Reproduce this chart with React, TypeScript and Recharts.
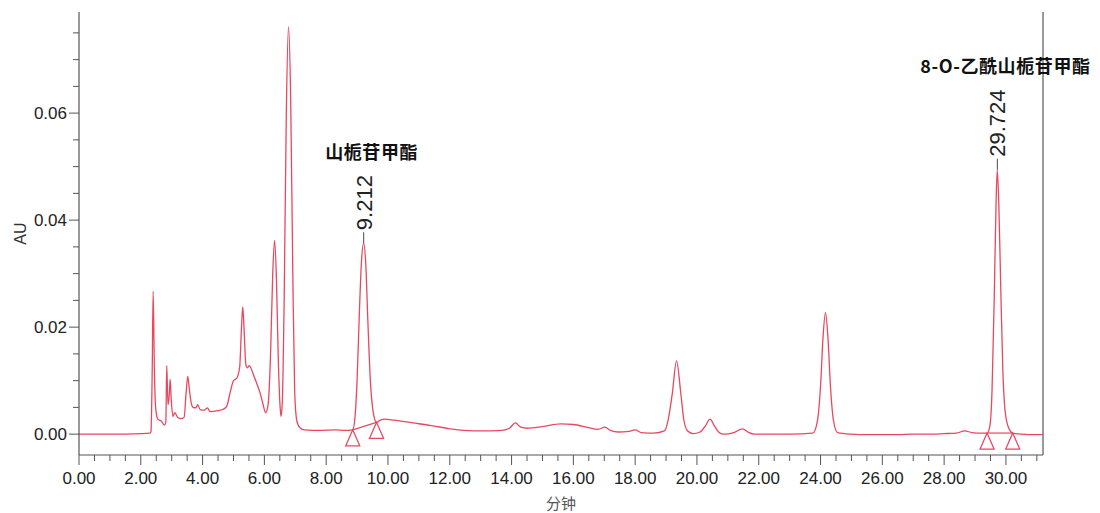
import React from 'react';
import {
  ComposedChart,
  Line,
  XAxis,
  YAxis,
  ReferenceLine,
  ReferenceDot,
} from 'recharts';

// retention time (min)
const times: number[] = [
  0, 1.0, 2.0, 2.3, 2.33, 2.37, 2.4, 2.44, 2.48, 2.55, 2.67, 2.76, 2.81, 2.84, 2.88, 2.92, 2.95, 2.99, 3.04,
  3.1, 3.2, 3.3, 3.4, 3.47, 3.52, 3.57, 3.62, 3.69, 3.78, 3.84, 3.92, 4.05, 4.16, 4.24, 4.5, 4.65, 4.78,
  4.9, 5.0, 5.1, 5.2, 5.26, 5.3, 5.34, 5.4, 5.45, 5.51, 5.56, 5.64, 5.75, 5.86, 5.96, 6.04, 6.12, 6.2,
  6.27, 6.33, 6.39, 6.45, 6.51, 6.54, 6.58, 6.64, 6.71, 6.78, 6.85, 6.92, 6.98, 7.05, 7.15, 7.3, 7.8,
  8.3, 8.6, 8.86, 8.93, 9.0, 9.07, 9.14, 9.21, 9.28, 9.35, 9.43, 9.5, 9.56, 9.63, 9.75, 9.9, 10.2, 10.8,
  11.4, 12.0, 12.45, 13.0, 13.7, 13.95, 14.12, 14.3, 14.5, 15.0, 15.6, 16.0, 16.5, 16.8, 17.02, 17.2,
  17.45, 17.8, 18.0, 18.2, 18.6, 18.95, 19.08, 19.2, 19.34, 19.48, 19.58, 19.7, 19.88, 20.1, 20.28,
  20.42, 20.56, 20.7, 20.85, 21.2, 21.48, 21.65, 21.85, 22.5, 23.0, 23.75, 23.9, 24.0, 24.08, 24.16,
  24.24, 24.32, 24.42, 24.55, 25.0, 25.5, 26.0, 26.5, 27.0, 27.5, 28.0, 28.4, 28.67, 28.9, 29.2, 29.39,
  29.48, 29.55, 29.62, 29.68, 29.72, 29.77, 29.83, 29.9, 29.98, 30.1, 30.22, 30.5, 31.0, 31.2,
];

// absorbance (AU)
const absorbance: number[] = [
  0.0, 0.0, 0.0001, 0.0002, 0.0005, 0.012, 0.0267, 0.012, 0.005, 0.0028, 0.0024, 0.0017, 0.0022, 0.0128, 0.0055, 0.0072, 0.0103, 0.006, 0.0033,
  0.004, 0.0031, 0.0029, 0.0031, 0.008, 0.0108, 0.0085, 0.0062, 0.005, 0.0049, 0.0055, 0.0046, 0.0045, 0.0049, 0.0042, 0.0044, 0.0046, 0.0052,
  0.008, 0.01, 0.0104, 0.0125, 0.02, 0.0238, 0.02, 0.013, 0.0124, 0.0128, 0.0124, 0.0112, 0.0095, 0.0077, 0.0055, 0.004, 0.0055, 0.015,
  0.03, 0.0362, 0.029, 0.014, 0.005, 0.0033, 0.006, 0.025, 0.06, 0.0761, 0.063, 0.03, 0.008, 0.0025, 0.0012, 0.0008, 0.0007,
  0.0008, 0.0007, 0.0008, 0.003, 0.01, 0.022, 0.032, 0.0357, 0.032, 0.021, 0.01, 0.005, 0.003, 0.0022, 0.0026, 0.0028, 0.0026, 0.0021,
  0.0016, 0.001, 0.0007, 0.0006, 0.0007, 0.0012, 0.0021, 0.0013, 0.0011, 0.0014, 0.0019, 0.0018, 0.0012, 0.0009, 0.0013, 0.0007,
  0.0004, 0.0005, 0.0008, 0.0003, 0.0002, 0.0006, 0.003, 0.0075, 0.0137, 0.0075, 0.0025, 0.0006, 0.0001, 0.0004, 0.0016,
  0.0028, 0.0016, 0.0004, 0.0, 0.0003, 0.001, 0.0004, 0.0, 0.0, 0.0, 0.0002, 0.0025, 0.009, 0.018, 0.0227,
  0.018, 0.009, 0.0025, 0.0003, 0.0, -0.0001, -0.0001, -0.0001, 0.0, 0.0, 0.0001, 0.0002, 0.0006, 0.0003, 0.0002, 0.0002,
  0.0015, 0.008, 0.025, 0.043, 0.0494, 0.043, 0.028, 0.012, 0.004, 0.001, 0.0002, 0.0, -0.0001, -0.0001,
];

// annotated peaks
const peakTimes: number[] = [9.212, 29.724];
const peakHeights: number[] = [0.0357, 0.0494];
const peakLabels: string[] = ['9.212', '29.724'];
const peakNames: string[] = ['山栀苷甲酯', '8-O-乙酰山栀苷甲酯'];
// integration start / end markers
const markStartT: number[] = [8.86, 29.39];
const markStartV: number[] = [0.0008, 0.0002];
const markEndT: number[] = [9.63, 30.22];
const markEndV: number[] = [0.0022, 0.0002];

const xTicks: number[] = Array.from({ length: 63 }, (_, i) => i * 0.5);
const yTicks: number[] = Array.from({ length: 16 }, (_, i) => i * 0.005);

const data = times.map((t, i) => ({ t, v: absorbance[i] }));

const RED = '#e8485f';
const AXIS = '#555';
const FONT = '"Liberation Sans", Arial, sans-serif';
const CJK = '"Noto Sans CJK SC", "Noto Sans", sans-serif';

const XTick = (props: any) => {
  const { x, y, payload } = props;
  const v = payload.value as number;
  const major = Math.round(v * 2) % 4 === 0;
  return (
    <g>
      <line x1={x} x2={x} y1={y} y2={y + (major ? 10 : 6)} stroke={AXIS} strokeWidth={1} />
      {major && (
        <text x={x} y={y + 29} textAnchor="middle" fontSize={17} fontFamily={FONT} fill="#222">
          {v.toFixed(2)}
        </text>
      )}
    </g>
  );
};

const YTick = (props: any) => {
  const { x, y, payload } = props;
  const v = payload.value as number;
  const major = Math.round(v / 0.005) % 4 === 0;
  return (
    <g>
      <line x1={x - (major ? 10 : 6)} x2={x} y1={y} y2={y} stroke={AXIS} strokeWidth={1} />
      {major && (
        <text x={x - 12} y={y} dy="0.36em" textAnchor="end" fontSize={17} fontFamily={FONT} fill="#222">
          {v.toFixed(2)}
        </text>
      )}
    </g>
  );
};

const Triangle = (props: any) => {
  const { cx, cy } = props;
  return (
    <path
      d={`M${cx},${cy} L${cx - 7},${cy + 16} L${cx + 7},${cy + 16} Z`}
      fill="none"
      stroke={RED}
      strokeWidth={1.3}
    />
  );
};

const makeAnnotation = (label: string, name: string) => (props: any) => {
  const { cx, cy } = props;
  const textStart = cy - 13;
  const textLen = label.length * 12.2;
  return (
    <g>
      <line x1={cx} x2={cx} y1={cy} y2={cy - 11} stroke="#666" strokeWidth={1.2} />
      <text
        x={cx}
        y={textStart}
        transform={`rotate(-90 ${cx} ${textStart})`}
        dy="0.36em"
        textAnchor="start"
        fontSize={22}
        fontFamily={FONT}
        fill="#222"
      >
        {label}
      </text>
      <text
        x={cx + 8}
        y={textStart - textLen - 17}
        dy="0.36em"
        textAnchor="middle"
        fontSize={18}
        fontWeight="bold"
        fontFamily={CJK}
        fill="#111"
        letterSpacing={0.6}
      >
        {name}
      </text>
    </g>
  );
};

export default function App() {
  return (
    <div style={{ position: 'absolute', left: 0, top: 0, background: '#fff' }}>
      <ComposedChart
        width={1100}
        height={513}
        data={data}
        margin={{ top: 12, right: 57, bottom: 0, left: 0 }}
      >
        <XAxis
          dataKey="t"
          type="number"
          domain={[0, 31.2]}
          ticks={xTicks}
          interval={0}
          tickLine={false}
          tickSize={0}
          tickMargin={0}
          tick={<XTick />}
          axisLine={{ stroke: AXIS, strokeWidth: 1.2 }}
          height={58}
          allowDataOverflow
          label={{
            content: (p: any) => {
              const vb = p.viewBox || {};
              return (
                <text
                  x={vb.x + vb.width / 2}
                  y={vb.y + 54}
                  textAnchor="middle"
                  fontSize={15}
                  fontFamily={CJK}
                  fill="#555"
                >
                  分钟
                </text>
              );
            },
          }}
        />
        <YAxis
          type="number"
          domain={[-0.0039, 0.0789]}
          ticks={yTicks}
          interval={0}
          tickLine={false}
          tickSize={0}
          tickMargin={0}
          tick={<YTick />}
          axisLine={{ stroke: AXIS, strokeWidth: 1.2 }}
          width={79}
          allowDataOverflow
          label={{
            content: (p: any) => {
              const vb = p.viewBox || {};
              const lx = vb.x + 20;
              const ly = vb.y + vb.height / 2;
              return (
                <text
                  x={lx}
                  y={ly}
                  transform={`rotate(-90 ${lx} ${ly})`}
                  dy="0.36em"
                  textAnchor="middle"
                  fontSize={16}
                  fontFamily={FONT}
                  fill="#333"
                >
                  AU
                </text>
              );
            },
          }}
        />
        <ReferenceLine x={31.2} stroke={AXIS} strokeWidth={1.2} />
        {markStartT.map((t, i) => (
          <ReferenceLine
            key={`bl${i}`}
            segment={[
              { x: t, y: markStartV[i] },
              { x: markEndT[i], y: markEndV[i] },
            ]}
            stroke={RED}
            strokeWidth={1.2}
          />
        ))}
        <Line
          type="monotone"
          dataKey="v"
          stroke={RED}
          strokeWidth={1.3}
          dot={false}
          activeDot={false}
          isAnimationActive={false}
        />
        {markStartT.map((t, i) => (
          <ReferenceDot key={`ms${i}`} x={t} y={markStartV[i]} r={1} shape={<Triangle />} />
        ))}
        {markEndT.map((t, i) => (
          <ReferenceDot key={`me${i}`} x={t} y={markEndV[i]} r={1} shape={<Triangle />} />
        ))}
        {peakTimes.map((t, i) => (
          <ReferenceDot
            key={`pk${i}`}
            x={t}
            y={peakHeights[i]}
            r={1}
            shape={makeAnnotation(peakLabels[i], peakNames[i])}
          />
        ))}
      </ComposedChart>
    </div>
  );
}
